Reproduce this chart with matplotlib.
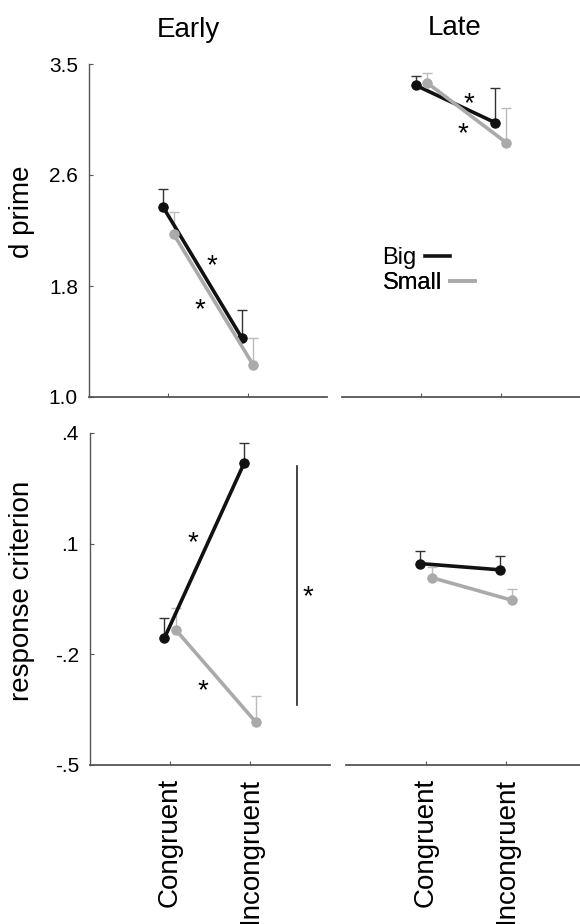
"""
d prime and response criterion for Big / Small stimuli,
Early vs Late, congruent vs incongruent conditions.
"""

import matplotlib.pyplot as plt
from matplotlib.lines import Line2D

plt.rcParams["font.family"] = ["Liberation Sans", "DejaVu Sans"]

conditions = ["Congruent", "Incongruent"]
panel_titles = ["Early", "Late"]
series_names = ["Big", "Small"]

# d prime (top row): means and upward error bars
dprime_early_big = [2.43, 1.44]
dprime_early_big_err = [0.13, 0.21]
dprime_early_small = [2.22, 1.24]
dprime_early_small_err = [0.17, 0.20]
dprime_late_big = [3.34, 3.06]
dprime_late_big_err = [0.07, 0.26]
dprime_late_small = [3.36, 2.91]
dprime_late_small_err = [0.07, 0.26]

# response criterion (bottom row)
crit_early_big = [-0.156, 0.32]
crit_early_big_err = [0.055, 0.054]
crit_early_small = [-0.133, -0.383]
crit_early_small_err = [0.059, 0.07]
crit_late_big = [0.046, 0.029]
crit_late_big_err = [0.035, 0.038]
crit_late_small = [0.008, -0.053]
crit_late_small_err = [0.03, 0.031]

dprime_ticks = [1.0, 1.8333, 2.6667, 3.5]
dprime_labels = ["1.0", "1.8", "2.6", "3.5"]
crit_ticks = [-0.5, -0.2, 0.1, 0.4]
crit_labels = ["-.5", "-.2", ".1", ".4"]

BIG_COLOR = "#111111"
SMALL_COLOR = "#aaaaaa"
SPINE_COLOR = "#555555"


def draw_pair(ax, big, big_err, small, small_err):
    """Draw Big and Small series with one-sided (upward) error bars."""
    xs = [1, 2]
    for vals, errs, color, off, ecol in [
        (big, big_err, BIG_COLOR, -0.07, "#333333"),
        (small, small_err, SMALL_COLOR, 0.07, "#bbbbbb"),
    ]:
        x = [v + off for v in xs]
        ax.errorbar(x, vals, yerr=[[0] * len(errs), errs], fmt="none",
                    ecolor=ecol, elinewidth=1.0, capsize=3.5, capthick=1.0,
                    zorder=2)
        ax.plot(x, vals, color=color, lw=2.6, marker="o", ms=6.5, zorder=3)


def style_axes(ax, show_left, show_xlabels):
    for side in ["top", "right"]:
        ax.spines[side].set_visible(False)
    ax.spines["left"].set_visible(show_left)
    ax.spines["bottom"].set_color(SPINE_COLOR)
    ax.spines["left"].set_color(SPINE_COLOR)
    ax.spines["bottom"].set_linewidth(1.3)
    ax.spines["left"].set_linewidth(1.0)
    ax.set_xticks([1, 2])
    if show_xlabels:
        ax.set_xticklabels(conditions, rotation=90, fontsize=20)
    else:
        ax.set_xticklabels([])
    ax.tick_params(axis="x", direction="in", length=3, pad=9,
                   color=SPINE_COLOR)
    ax.tick_params(axis="y", direction="in", length=3, pad=8,
                   labelsize=15, color=SPINE_COLOR)
    if not show_left:
        ax.tick_params(axis="y", left=False, labelleft=False)


fig = plt.figure(figsize=(5.8, 9.24), dpi=100)
W, H = 580.0, 924.0


def add_axes(x0, x1, y0, y1):
    return fig.add_axes([x0 / W, 1 - y1 / H, (x1 - x0) / W, (y1 - y0) / H])


ax_tl = add_axes(89, 327, 64, 397)
ax_tr = add_axes(342, 580, 64, 397)
ax_bl = add_axes(90, 330, 433, 765)
ax_br = add_axes(346, 580, 433, 765)

draw_pair(ax_tl, dprime_early_big, dprime_early_big_err,
          dprime_early_small, dprime_early_small_err)
draw_pair(ax_tr, dprime_late_big, dprime_late_big_err,
          dprime_late_small, dprime_late_small_err)
draw_pair(ax_bl, crit_early_big, crit_early_big_err,
          crit_early_small, crit_early_small_err)
draw_pair(ax_br, crit_late_big, crit_late_big_err,
          crit_late_small, crit_late_small_err)

for ax in [ax_tl, ax_tr]:
    ax.set_ylim(1.0, 3.5)
    ax.set_xlim(0, 3)
for ax in [ax_bl, ax_br]:
    ax.set_ylim(-0.5, 0.4)
ax_bl.set_xlim(0, 3)
ax_br.set_xlim(0, 2.925)

style_axes(ax_tl, True, False)
style_axes(ax_tr, False, False)
style_axes(ax_bl, True, True)
style_axes(ax_br, False, True)

ax_tl.set_yticks(dprime_ticks)
ax_tl.set_yticklabels(dprime_labels)
ax_bl.set_yticks(crit_ticks)
ax_bl.set_yticklabels(crit_labels)

# significance stars
star_kw = dict(fontsize=20, ha="center", va="center")
ax_tl.text(1.55, 1.98, "*", **star_kw)
ax_tl.text(1.40, 1.65, "*", **star_kw)
ax_tr.text(1.60, 3.20, "*", **star_kw)
ax_tr.text(1.53, 2.97, "*", **star_kw)
ax_bl.text(1.29, 0.10, "*", **star_kw)
ax_bl.text(1.41, -0.30, "*", **star_kw)
ax_bl.plot([2.59, 2.59], [0.311, -0.337], color="#222222", lw=1.2)
ax_bl.text(2.72, -0.045, "*", **star_kw)

# legend: label first, line right after, labels left aligned
legend_colors = [BIG_COLOR, SMALL_COLOR]
legend_anchor_y = [0.4174, 0.342]
for name, color, ay in zip(series_names, legend_colors, legend_anchor_y):
    leg = ax_tr.legend([Line2D([], [], color=color, lw=2.6)], [name],
                       loc="center left", bbox_to_anchor=(0.17, ay),
                       frameon=False, markerfirst=False, fontsize=17,
                       handlelength=1.05, handletextpad=0.35,
                       borderpad=0, borderaxespad=0)
    ax_tr.add_artist(leg)

# titles and axis labels
fig.text(188 / W, 1 - 30 / H, panel_titles[0], fontsize=20,
         ha="center", va="center")
fig.text(455 / W, 1 - 28 / H, panel_titles[1], fontsize=20,
         ha="center", va="center")
fig.text(22 / W, 1 - 212 / H, "d prime", fontsize=20, rotation=90,
         ha="center", va="center")
fig.text(22 / W, 1 - 591 / H, "response criterion", fontsize=20,
         rotation=90, ha="center", va="center")

fig.savefig("out.png", dpi=100)
